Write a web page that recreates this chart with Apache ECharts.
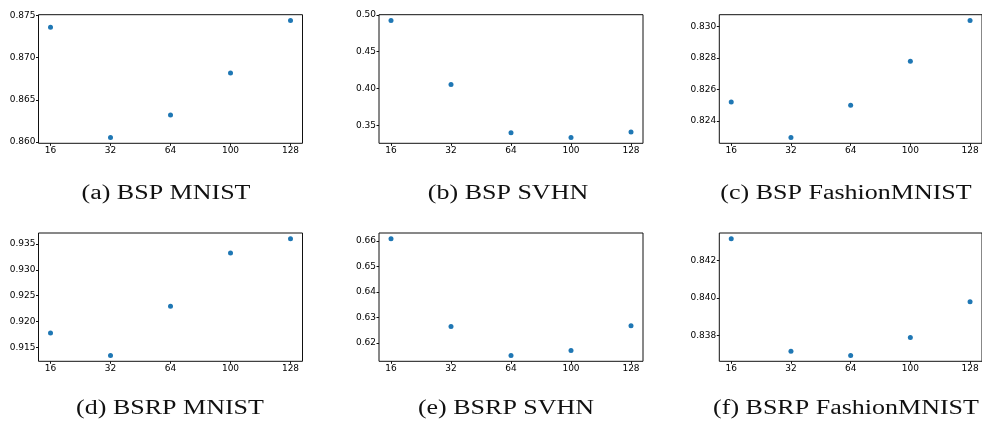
<!DOCTYPE html>
<html>
<head>
<meta charset="utf-8">
<script src="https://cdn.jsdelivr.net/npm/echarts@6/dist/echarts.min.js"></script>
<style>
  html, body { margin: 0; padding: 0; background: #ffffff; }
  #chart { width: 982px; height: 426px; }
</style>
</head>
<body>
<div id="chart"></div>
<script>
// ---- data ----
const categories = ['16', '32', '64', '100', '128'];

const bspMnist    = [0.8736, 0.86055, 0.8632, 0.8682, 0.8744];
const bspSvhn     = [0.4922, 0.4054, 0.3401, 0.3337, 0.3410];
const bspFashion  = [0.8252, 0.82296, 0.8250, 0.82778, 0.83036];
const bsrpMnist   = [0.9178, 0.91346, 0.92297, 0.93322, 0.93597];
const bsrpSvhn    = [0.6608, 0.6265, 0.61516, 0.6171, 0.6268];
const bsrpFashion = [0.84315, 0.83717, 0.83695, 0.83791, 0.83980];

const ticksBspMnist    = [0.860, 0.865, 0.870, 0.875];
const ticksBspSvhn     = [0.35, 0.40, 0.45, 0.50];
const ticksBspFashion  = [0.824, 0.826, 0.828, 0.830];
const ticksBsrpMnist   = [0.915, 0.920, 0.925, 0.930, 0.935];
const ticksBsrpSvhn    = [0.62, 0.63, 0.64, 0.65, 0.66];
const ticksBsrpFashion = [0.838, 0.840, 0.842];

const captions = [
  '(a) BSP MNIST', '(b) BSP SVHN', '(c) BSP FashionMNIST',
  '(d) BSRP MNIST', '(e) BSRP SVHN', '(f) BSRP FashionMNIST'
];

// ---- layout ----
const panels = [
  { values: bspMnist,    ticks: ticksBspMnist,    dec: 3 },
  { values: bspSvhn,     ticks: ticksBspSvhn,     dec: 2 },
  { values: bspFashion,  ticks: ticksBspFashion,  dec: 3 },
  { values: bsrpMnist,   ticks: ticksBsrpMnist,   dec: 3 },
  { values: bsrpSvhn,    ticks: ticksBsrpSvhn,    dec: 2 },
  { values: bsrpFashion, ticks: ticksBsrpFashion, dec: 3 }
];
const lefts = [38.5, 379, 719.3];
const tops = [14.7, 233];
const heights = [128.6, 128.3];
const plotW = 264;
const capCenters = [[166, 508, 846], [170, 506, 846]];
const capMiddles = [193.5, 408.5];

const tickFont = { fontFamily: 'DejaVu Sans', fontSize: 9, color: '#000' };
const catIdx = categories.map((c, i) => i);

const grid = [], xAxis = [], yAxis = [], series = [], graphic = [];
panels.forEach((p, k) => {
  const r = Math.floor(k / 3), c = k % 3;
  grid.push({
    left: lefts[c], top: tops[r], width: plotW, height: heights[r],
    show: true, borderColor: '#111', borderWidth: 1, backgroundColor: 'transparent',
    containLabel: false
  });
  const n = categories.length - 1;
  xAxis.push({
    type: 'value', gridIndex: k, min: -0.05 * n, max: n + 0.05 * n,
    axisLine: { show: false, onZero: false },
    splitLine: { show: false },
    axisTick: { show: true, customValues: catIdx, length: 2.5, lineStyle: { color: '#111', width: 1 } },
    axisLabel: Object.assign({ customValues: catIdx, margin: 3,
      formatter: v => categories[Math.round(v)] }, tickFont)
  });
  const lo = Math.min(...p.values), hi = Math.max(...p.values);
  const pad = 0.05 * (hi - lo);
  yAxis.push({
    type: 'value', gridIndex: k, min: lo - pad, max: hi + pad,
    axisLine: { show: false, onZero: false },
    splitLine: { show: false },
    axisTick: { show: true, customValues: p.ticks, length: 2.5, lineStyle: { color: '#111', width: 1 } },
    axisLabel: Object.assign({ customValues: p.ticks, margin: 3,
      showMinLabel: true, showMaxLabel: true,
      formatter: v => Number(v).toFixed(p.dec) }, tickFont)
  });
  series.push({
    type: 'scatter', xAxisIndex: k, yAxisIndex: k,
    symbol: 'circle', symbolSize: 5,
    itemStyle: { color: '#1f77b4', opacity: 1 },
    data: p.values.map((v, i) => [i, v]),
    silent: true
  });
  graphic.push({
    type: 'text',
    x: capCenters[r][c], y: capMiddles[r],
    scaleX: 1.3,
    style: {
      text: captions[k],
      fontFamily: 'Liberation Serif', fontSize: 20, fill: '#111',
      textAlign: 'center', textVerticalAlign: 'middle', verticalAlign: 'middle'
    }
  });
});

const chart = echarts.init(document.getElementById('chart'), null, { renderer: 'canvas' });
chart.setOption({
  animation: false,
  backgroundColor: '#ffffff',
  grid, xAxis, yAxis, series, graphic
});
</script>
</body>
</html>
